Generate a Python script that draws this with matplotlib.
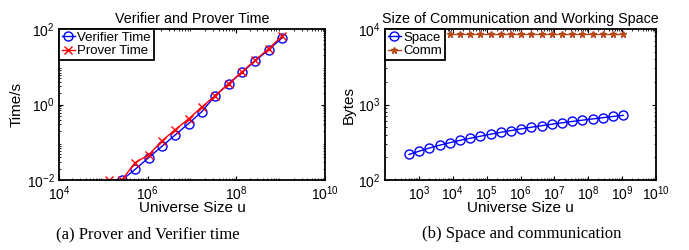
import matplotlib
matplotlib.use('Agg')
import matplotlib.pyplot as plt
from matplotlib.ticker import LogLocator, NullFormatter

plt.rcParams['font.family'] = ['Liberation Sans', 'DejaVu Sans']
plt.rcParams['mathtext.fontset'] = 'custom'
plt.rcParams['mathtext.rm'] = 'Liberation Sans'

# left panel: time vs universe size
u_ver = [2 ** i for i in range(18, 31)]
t_ver = [0.01, 0.0192, 0.039, 0.078, 0.157, 0.313, 0.652, 1.73, 3.54, 7.07, 14.4, 28.3, 57.7]
u_prv = [2 ** i for i in range(17, 31)]
t_prv = [0.01, 0.01, 0.029, 0.046, 0.108, 0.217, 0.416, 0.867, 1.73, 3.54, 7.37, 15.0, 30.1, 65.2]

# right panel: bytes vs universe size
u_space = [2 ** i for i in range(9, 31)]
space = [218, 241, 265, 289, 312, 335, 357, 380, 404, 428, 452, 476,
         500, 524, 548, 572, 596, 620, 644, 668, 694, 718]
u_comm = [2 ** i for i in range(13, 31)]
comm = [8650] * 18

fig = plt.figure(figsize=(6.89, 2.5), dpi=100)
ax1 = fig.add_axes([59 / 689, 70 / 250, 266 / 689, 151 / 250])
ax2 = fig.add_axes([385 / 689, 70 / 250, 271 / 689, 151 / 250])

ax1.plot(u_ver, t_ver, '-o', color='blue', mfc='none', ms=6.5, lw=1, label='Verifier Time')
ax1.plot(u_prv, t_prv, '-x', color='red', ms=6, lw=1, label='Prover Time')
ax1.set_xscale('log')
ax1.set_yscale('log')
ax1.set_xlim(1e4, 1e10)
ax1.set_ylim(1e-2, 1e2)
ax1.set_xticks([1e4, 1e6, 1e8, 1e10])
ax1.set_yticks([1e-2, 1e0, 1e2])
ax1.set_title('Verifier and Prover Time', fontsize=10.3, pad=4)
ax1.set_xlabel('Universe Size u', fontsize=11, labelpad=-1)
ax1.set_ylabel('Time/s', fontsize=11, labelpad=2)

brown = (0.72, 0.28, 0.1)
ax2.plot(u_space, space, '-o', color='blue', mfc='none', ms=6.5, lw=1, label='Space')
ax2.plot(u_comm, comm, '-*', color=brown, ms=5, lw=1, label='Comm')
ax2.set_xscale('log')
ax2.set_yscale('log')
ax2.set_xlim(1e2, 1e10)
ax2.set_ylim(1e2, 1e4)
ax2.set_xticks([10.0 ** k for k in range(3, 11)])
ax2.set_yticks([1e2, 1e3, 1e4])
ax2.set_title('Size of Communication and Working Space', fontsize=10.3, pad=4)
ax2.set_xlabel('Universe Size u', fontsize=11, labelpad=-1)
ax2.set_ylabel('Bytes', fontsize=11, labelpad=2)

for ax in (ax1, ax2):
    for s in ax.spines.values():
        s.set_linewidth(1.3)
    ax.xaxis.set_minor_locator(LogLocator(base=10, subs=range(2, 10), numticks=20))
    ax.yaxis.set_minor_locator(LogLocator(base=10, subs=range(2, 10), numticks=20))
    ax.xaxis.set_minor_formatter(NullFormatter())
    ax.yaxis.set_minor_formatter(NullFormatter())
    ax.tick_params(which='both', direction='in', top=True, right=True, labelsize=10)
    ax.tick_params(which='major', length=3, pad=3)
    ax.tick_params(which='minor', length=1.5)
    leg = ax.legend(loc='upper left', fontsize=9.5, fancybox=False, borderaxespad=0,
                    handlelength=1.0, handletextpad=0.2, borderpad=0.2,
                    labelspacing=0.1, framealpha=1)
    leg.get_frame().set_edgecolor('black')
    leg.get_frame().set_linewidth(1.3)

fig.text(148 / 689, 1 - 234 / 250, '(a) Prover and Verifier time', ha='center', va='center',
         fontsize=12, family='Liberation Serif')
fig.text(522 / 689, 1 - 234 / 250, '(b) Space and communication', ha='center', va='center',
         fontsize=12, family='Liberation Serif')

fig.savefig('out.png', dpi=100)
